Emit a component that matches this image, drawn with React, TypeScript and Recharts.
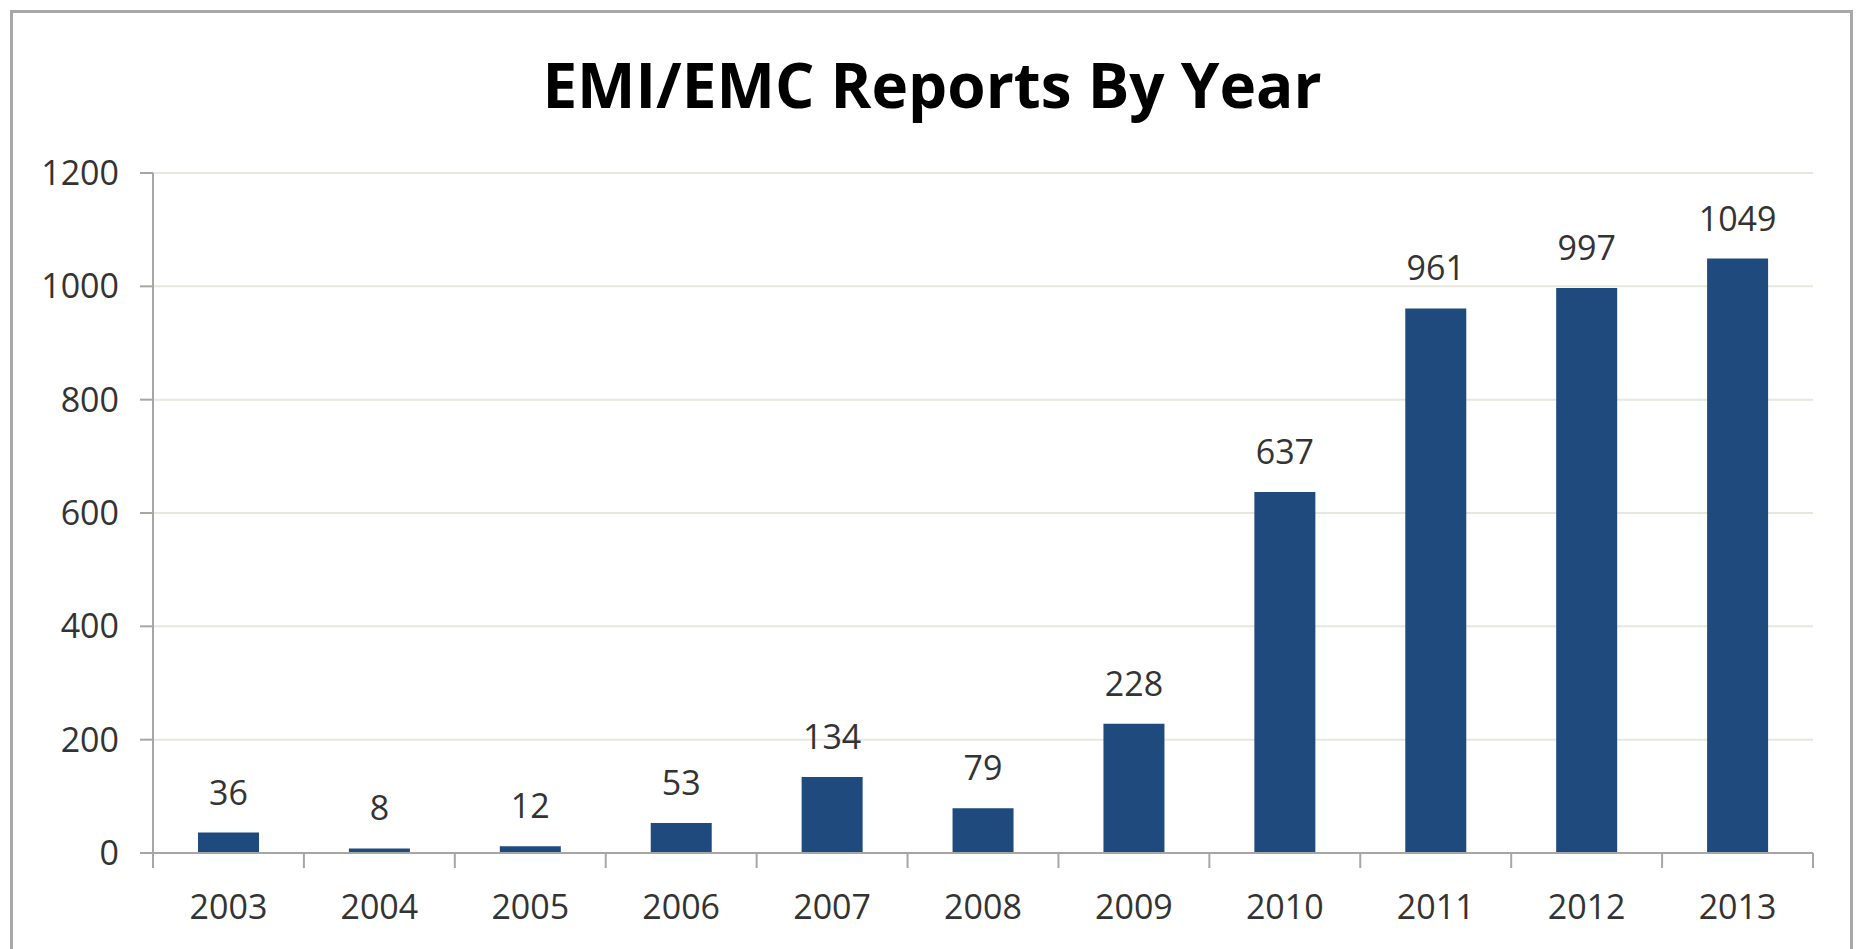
import { Bar, BarChart, CartesianGrid, LabelList, XAxis, YAxis } from "recharts";

const years = ["2003", "2004", "2005", "2006", "2007", "2008", "2009", "2010", "2011", "2012", "2013"];
const reports = [36, 8, 12, 53, 134, 79, 228, 637, 961, 997, 1049];
const yTicks = [0, 200, 400, 600, 800, 1000, 1200];

const data = years.map((year, i) => ({ year, reports: reports[i] }));

const FONT = "'Open Sans', 'Noto Sans', sans-serif";
const BAR = "#1f4a7d";
const AXIS = "#a6a6a6";
const TEXT = "#333333";

// Excel-style category axis: tick marks sit between the categories, not under them
function YearTick(props: any) {
  const { x, y, payload } = props;
  const half = payload?.offset || 1660 / years.length / 2;
  const last = payload?.value === years[years.length - 1];
  return (
    <g>
      <line x1={x - half} x2={x - half} y1={y} y2={y + 15} stroke={AXIS} strokeWidth={2} />
      {last ? <line x1={x + half} x2={x + half} y1={y} y2={y + 15} stroke={AXIS} strokeWidth={2} /> : null}
      <text x={x} y={y + 42} dy="0.71em" textAnchor="middle" fontSize={34} fontFamily={FONT} fill={TEXT}>
        {payload?.value}
      </text>
    </g>
  );
}

export default function App() {
  return (
    <div style={{ position: "relative", width: 1860, height: 949, overflow: "hidden", background: "#fff" }}>
      <style>{`body{margin:0;overflow:hidden}`}</style>
      <div
        style={{
          position: "absolute",
          left: 10,
          top: 10,
          width: 1843,
          height: 1000,
          border: "3px solid #a8a8a8",
          boxSizing: "border-box",
        }}
      />
      <svg width={1860} height={140} style={{ position: "absolute", left: 0, top: 0 }}>
        <text x={932} y={108} textAnchor="middle" fontFamily={FONT} fontWeight={700} fontSize={62} fill="#000">
          EMI/EMC Reports By Year
        </text>
      </svg>
      <div style={{ position: "absolute", left: 0, top: 0 }}>
        <BarChart width={1860} height={949} data={data} margin={{ top: 173, right: 47, bottom: 36, left: 0 }}>
          <CartesianGrid vertical={false} stroke="#e8e7dc" strokeWidth={2} />
          <XAxis
            dataKey="year"
            height={60}
            axisLine={{ stroke: AXIS, strokeWidth: 2 }}
            tickLine={false}
            tickSize={0}
            tickMargin={0}
            interval={0}
            tick={<YearTick />}
          />
          <YAxis
            width={153}
            domain={[0, 1200]}
            ticks={yTicks}
            tickSize={13}
            tickMargin={21}
            axisLine={{ stroke: AXIS, strokeWidth: 2 }}
            tickLine={{ stroke: AXIS, strokeWidth: 2 }}
            tick={{ fontSize: 34, fontFamily: FONT, fill: TEXT }}
          />
          <Bar dataKey="reports" fill={BAR} barSize={61} isAnimationActive={false}>
            <LabelList dataKey="reports" position="top" offset={28} fontSize={34} fontFamily={FONT} fill={TEXT} />
          </Bar>
        </BarChart>
      </div>
    </div>
  );
}
